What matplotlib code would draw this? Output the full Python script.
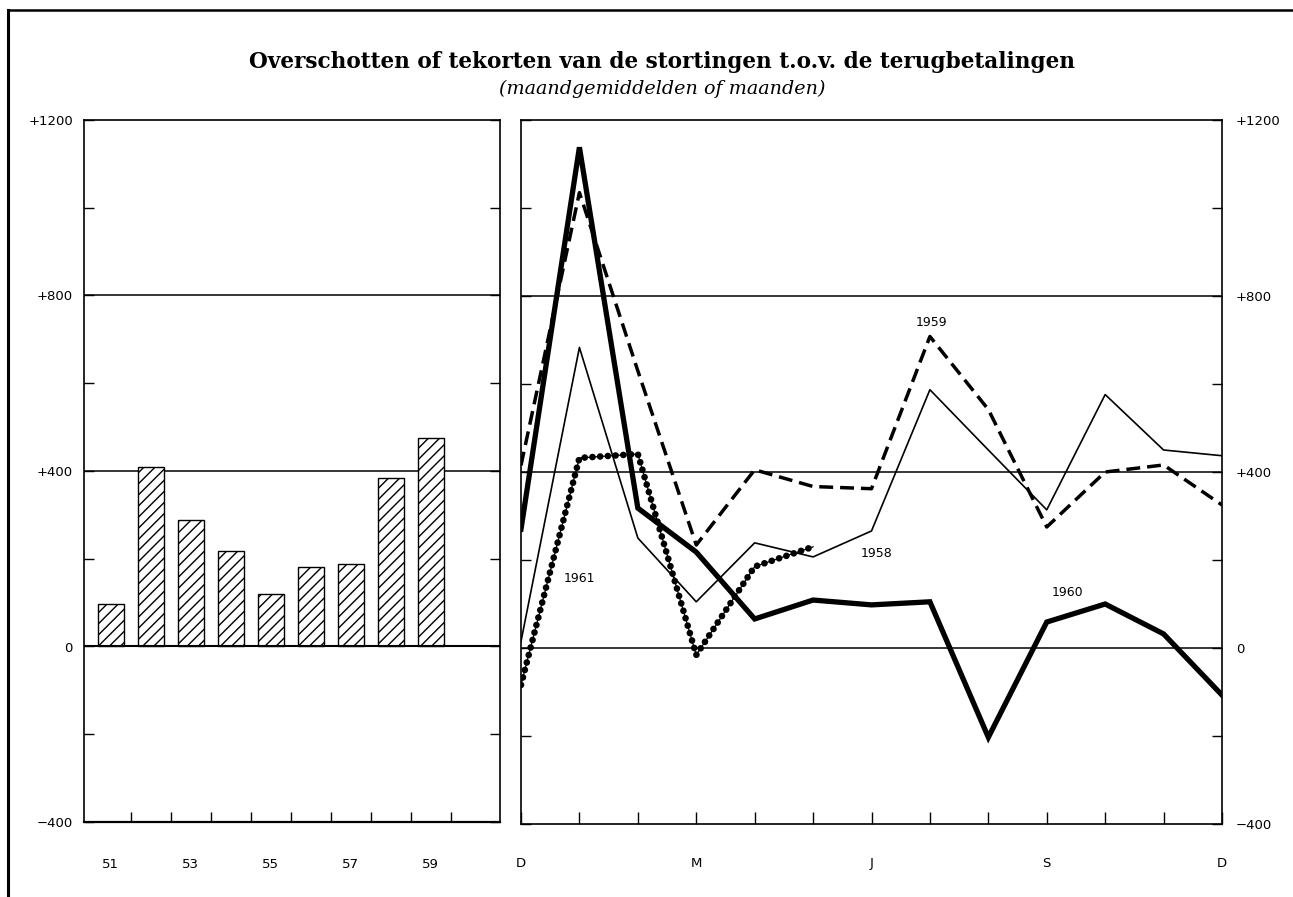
import numpy as np
import matplotlib
matplotlib.use("Agg")
import matplotlib.pyplot as plt
from matplotlib.lines import Line2D

# yearly averages (left panel)
years = [51, 52, 53, 54, 55, 56, 57, 58, 59]
year_vals = [96, 408, 289, 217, 119, 182, 189, 383, 476]

# monthly values (right panel), D .. D
months = list(range(13))
month_labels = ['D', '', '', 'M', '', '', 'J', '', '', 'S', '', '', 'D']
s1958 = [15, 683, 250, 105, 239, 207, 266, 587, 450, 314, 576, 450, 437]
s1959 = [415, 1035, 630, 234, 405, 367, 362, 708, 542, 275, 400, 416, 325]
s1960 = [270, 1138, 318, 218, 66, 109, 98, 105, -203, 59, 100, 32, -107]
s1961 = [-84, 432, 441, -16, 185, 230]

yticks = [-400, -200, 0, 200, 400, 600, 800, 1000, 1200]
ylabels = ['\u2212400', '', '0', '', '+400', '', '+800', '', '+1200']

W, H = 1293, 897
fig = plt.figure(figsize=(W / 100, H / 100), dpi=100)


def box(x0, y0, x1, y1):
    return [x0 / W, 1 - y1 / H, (x1 - x0) / W, (y1 - y0) / H]


tick_font = dict(family='DejaVu Sans', size=9.5)

# ---- left panel
ax1 = fig.add_axes(box(84, 120, 500, 822))
ax1.bar(years, year_vals, width=0.64, facecolor='white', edgecolor='black',
        hatch='///', linewidth=1.0, zorder=3)
for g in [400, 800]:
    ax1.axhline(g, color='black', lw=1.1, zorder=1)
ax1.axhline(0, color='black', lw=1.5, zorder=4)
ax1.set_xlim(50.33, 60.73)
ax1.set_ylim(-400, 1200)
ax1.set_yticks(yticks)
ax1.set_yticklabels(ylabels, **tick_font)
ax1.set_xticks([y + 0.5 for y in years])
ax1.set_xticklabels([])
ax1.set_xticks([51, 53, 55, 57, 59], minor=True)
ax1.set_xticklabels(['51', '53', '55', '57', '59'], minor=True, **tick_font)
ax1.tick_params(axis='y', direction='in', length=7, width=1, left=True, right=True, pad=8)
ax1.tick_params(axis='x', which='major', direction='in', length=7, width=1)
ax1.tick_params(axis='x', which='minor', length=0, pad=26)
for sp in ax1.spines.values():
    sp.set_linewidth(1.2)
ax1.spines['bottom'].set_linewidth(1.6)

# ---- right panel
ax2 = fig.add_axes(box(521, 120, 1222, 824))
for g in [0, 400, 800]:
    ax2.axhline(g, color='black', lw=1.1, zorder=1)
ax2.plot(months, s1958, color='black', lw=1.2, zorder=3)
ax2.plot(months, s1959, color='black', lw=2.5, dashes=(4, 2), zorder=3)
ax2.plot(months, s1960, color='black', lw=3.8, solid_joinstyle='miter', zorder=4)
ax2.plot(months[:len(s1961)], s1961, color='black', lw=0.9, zorder=5)
ax2.plot(months[:len(s1961)], s1961, color='black', lw=4.8,
         linestyle=(0, (0.01, 1.15)), dash_capstyle='round', zorder=5)

ann = dict(family='DejaVu Sans', size=9, ha='center', va='center')
ax2.text(7.03, 740, '1959', **ann)
ax2.text(6.09, 214, '1958', **ann)
ax2.text(1.0, 157, '1961', **ann)
ax2.text(9.35, 127, '1960', **ann)

ax2.set_xlim(0, 12)
ax2.set_ylim(-400, 1200)
ax2.set_xticks(months)
ax2.set_xticklabels(month_labels, **tick_font)
ax2.set_yticks(yticks)
ax2.set_yticklabels(ylabels, **tick_font)
ax2.tick_params(axis='y', direction='in', length=7, width=1, left=True, right=True,
                labelleft=False, labelright=True, pad=10)
ax2.tick_params(axis='x', direction='in', length=9, width=1, pad=24)
for sp in ax2.spines.values():
    sp.set_linewidth(1.2)

# ---- titles and frame
fig.text(662 / W, 1 - 62 / H, 'Overschotten of tekorten van de stortingen t.o.v. de terugbetalingen',
         family='DejaVu Serif', weight='bold', size=15.6, ha='center', va='center')
fig.text(662 / W, 1 - 89 / H, '(maandgemiddelden of maanden)',
         family='DejaVu Serif', style='italic', size=13.8, ha='center', va='center')
fig.add_artist(Line2D([8 / W, 1], [1 - 10 / H, 1 - 10 / H], color='black', lw=1.8))
fig.add_artist(Line2D([8 / W, 8 / W], [0, 1 - 10 / H], color='black', lw=2.2))

fig.savefig('out.png', dpi=100)
